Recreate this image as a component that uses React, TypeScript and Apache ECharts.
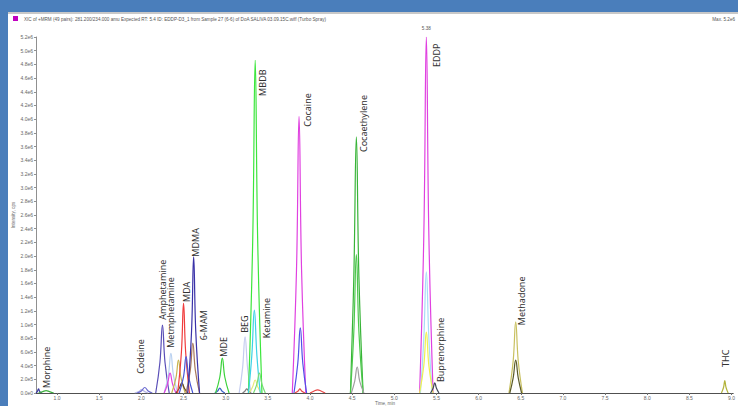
import React, { useEffect, useRef } from "react";
import * as echarts from "echarts";

// ---------- data (time in min, intensity in cps) ----------
const xTickValues = [1.0, 1.5, 2.0, 2.5, 3.0, 3.5, 4.0, 4.5, 5.0, 5.5, 6.0, 6.5, 7.0, 7.5, 8.0, 8.5, 9.0];

const morphineBlue: [number, number][] = [[0.75, 0], [0.765, 20000], [0.78, 60000], [0.795, 20000], [0.82, 0]];
const morphineGreen: [number, number][] = [[0.78, 0], [0.83, 20000], [0.87, 35000], [0.91, 20000], [0.96, 0]];
const codeine: [number, number][] = [[1.95, 0], [2.0, 30000], [2.04, 80000], [2.08, 30000], [2.13, 0]];
const codeineQual: [number, number][] = [[1.92, 0], [1.97, 20000], [2.0, 50000], [2.04, 20000], [2.08, 0]];
const amphetamine: [number, number][] = [[2.17, 0], [2.22, 450000], [2.25, 990000], [2.28, 450000], [2.33, 0]];
const methamphetamine: [number, number][] = [[2.27, 0], [2.32, 260000], [2.35, 580000], [2.38, 260000], [2.43, 0]];
const methamphetamineQual: [number, number][] = [[2.27, 0], [2.31, 130000], [2.34, 290000], [2.37, 130000], [2.41, 0]];
const mdaQual: [number, number][] = [[2.36, 0], [2.41, 220000], [2.44, 480000], [2.47, 220000], [2.52, 0]];
const mda: [number, number][] = [[2.43, 0], [2.475, 600000], [2.5, 1310000], [2.525, 600000], [2.57, 0]];
const mdaQual2: [number, number][] = [[2.45, 0], [2.5, 240000], [2.53, 530000], [2.56, 240000], [2.61, 0]];
const smallDark: [number, number][] = [[2.41, 0], [2.45, 70000], [2.48, 150000], [2.51, 70000], [2.55, 0]];
const mdma: [number, number][] = [[2.55, 0], [2.595, 900000], [2.62, 1990000], [2.645, 900000], [2.69, 0]];
const mam6: [number, number][] = [[2.53, 0], [2.58, 330000], [2.61, 730000], [2.64, 330000], [2.69, 0]];
const mde: [number, number][] = [[2.88, 0], [2.93, 230000], [2.96, 510000], [2.99, 230000], [3.04, 0]];
const mdeQual: [number, number][] = [[2.87, 0], [2.905, 30000], [2.93, 70000], [2.955, 30000], [2.99, 0]];
const beg: [number, number][] = [[3.16, 0], [3.2, 360000], [3.23, 820000], [3.26, 360000], [3.3, 0]];
const begQual: [number, number][] = [[3.2, 0], [3.23, 30000], [3.25, 60000], [3.27, 30000], [3.3, 0]];
const mbdb: [number, number][] = [[3.27, 0], [3.32, 2200000], [3.35, 4860000], [3.38, 2200000], [3.43, 0]];
const ketamineCyan: [number, number][] = [[3.27, 0], [3.31, 550000], [3.34, 1210000], [3.37, 550000], [3.41, 0]];
const ketamine: [number, number][] = [[3.33, 0], [3.37, 130000], [3.4, 290000], [3.43, 130000], [3.47, 0]];
const ketamineQual: [number, number][] = [[3.28, 0], [3.32, 90000], [3.35, 190000], [3.38, 90000], [3.42, 0]];
const cocaine: [number, number][] = [[3.79, 0], [3.84, 1800000], [3.87, 4040000], [3.9, 1800000], [3.95, 0]];
const cocaineQual: [number, number][] = [[3.81, 0], [3.855, 430000], [3.885, 950000], [3.915, 430000], [3.96, 0]];
const cocaineRed1: [number, number][] = [[3.82, 0], [3.86, 30000], [3.88, 60000], [3.9, 30000], [3.94, 0]];
const cocaineRed2: [number, number][] = [[4.0, 0], [4.05, 30000], [4.09, 45000], [4.13, 30000], [4.18, 0]];
const cocaethylene: [number, number][] = [[4.48, 0], [4.52, 1700000], [4.55, 3740000], [4.58, 1700000], [4.63, 0]];
const cocaethyleneQual: [number, number][] = [[4.48, 0], [4.52, 900000], [4.55, 2020000], [4.58, 900000], [4.63, 0]];
const cocaethyleneGray: [number, number][] = [[4.49, 0], [4.53, 170000], [4.56, 380000], [4.59, 170000], [4.64, 0]];
const eddp: [number, number][] = [[5.3, 0], [5.35, 2300000], [5.38, 5200000], [5.41, 2300000], [5.46, 0]];
const eddpCyan: [number, number][] = [[5.31, 0], [5.35, 800000], [5.38, 1770000], [5.41, 800000], [5.45, 0]];
const eddpYellow: [number, number][] = [[5.3, 0], [5.35, 400000], [5.38, 890000], [5.41, 400000], [5.46, 0]];
const buprenorphine: [number, number][] = [[5.43, 0], [5.46, 70000], [5.48, 150000], [5.5, 70000], [5.53, 0]];
const methadone: [number, number][] = [[6.36, 0], [6.41, 470000], [6.44, 1040000], [6.47, 470000], [6.52, 0]];
const methadoneQual: [number, number][] = [[6.37, 0], [6.41, 220000], [6.44, 480000], [6.47, 220000], [6.51, 0]];
const thc: [number, number][] = [[8.88, 0], [8.905, 80000], [8.92, 180000], [8.935, 80000], [8.96, 0]];

// compound label anchors [time, intensity] (bottom of each rotated label)
const labelNames = ["Morphine", "Codeine", "Amphetamine", "Metmphetamine", "MDA", "MDMA", "6-MAM", "MDE", "BEG", "MBDB", "Ketamine", "Cocaine", "Cocaethylene", "EDDP", "Buprenorphine", "Methadone", "THC"];
const labelTimes = [0.88, 1.99, 2.25, 2.35, 2.54, 2.64, 2.74, 2.97, 3.22, 3.44, 3.48, 3.97, 4.64, 5.5, 5.55, 6.51, 8.93];
const labelIntensities = [73000, 280000, 1070000, 660000, 1330000, 1990000, 770000, 530000, 880000, 4340000, 800000, 3890000, 3520000, 4760000, 160000, 990000, 380000];

const apexTime = 5.38;
const apexIntensity = 5200000;

const titleText = "XIC of +MRM (49 pairs): 281.200/234.000 amu Expected RT: 5.4 ID: EDDP-D3_1 from Sample 27 (6-6) of DoA SALIVA 03.09.15C.wiff (Turbo Spray)";
const maxText = "Max. 5.2e6";

const traces: { data: [number, number][]; color: string }[] = [
  { data: morphineBlue, color: "#3a3aa0" },
  { data: morphineGreen, color: "#40b040" },
  { data: codeineQual, color: "#b8b8e8" },
  { data: codeine, color: "#6a6ad0" },
  { data: amphetamine, color: "#5a4fb8" },
  { data: methamphetamine, color: "#b8d0f0" },
  { data: methamphetamineQual, color: "#e040e0" },
  { data: mdaQual, color: "#c8b450" },
  { data: smallDark, color: "#6a4a28" },
  { data: mda, color: "#f03c3c" },
  { data: mdaQual2, color: "#4858d8" },
  { data: mam6, color: "#a8785a" },
  { data: mdma, color: "#3a32a8" },
  { data: mdeQual, color: "#3c64c8" },
  { data: mde, color: "#3cd23c" },
  { data: beg, color: "#c4ccf0" },
  { data: begQual, color: "#808080" },
  { data: ketamineQual, color: "#e8e878" },
  { data: mbdb, color: "#3ce63c" },
  { data: ketamineCyan, color: "#3cd2e6" },
  { data: ketamine, color: "#78dc78" },
  { data: cocaine, color: "#e040e0" },
  { data: cocaineQual, color: "#5050e8" },
  { data: cocaineRed1, color: "#e84848" },
  { data: cocaineRed2, color: "#e84848" },
  { data: cocaethylene, color: "#38b438" },
  { data: cocaethyleneQual, color: "#4cc84c" },
  { data: cocaethyleneGray, color: "#a0a0a0" },
  { data: eddp, color: "#e040e0" },
  { data: eddpCyan, color: "#a8dcf8" },
  { data: eddpYellow, color: "#f0f050" },
  { data: buprenorphine, color: "#404858" },
  { data: methadone, color: "#c8c060" },
  { data: methadoneQual, color: "#5a5a28" },
  { data: thc, color: "#b4b43c" },
];

const fmtY = (v: number) => {
  if (v === 0) return "0.0e0";
  if (v < 1e6) return (v / 1e5).toFixed(1) + "e5";
  return (v / 1e6).toFixed(1) + "e6";
};

export default function App() {
  const ref = useRef<HTMLDivElement>(null);
  useEffect(() => {
    if (!ref.current) return;
    const chart = echarts.init(ref.current, null, { renderer: "svg" });
    const small = { fontSize: 5, color: "#666", fontFamily: "Liberation Sans" };
    chart.setOption({
      animation: false,
      backgroundColor: "#4a7ebb",
      grid: { left: 36, right: 3, top: 37, bottom: 13 },
      xAxis: {
        type: "value",
        min: 0.75,
        max: 9.02,
        axisLine: { lineStyle: { color: "#505050", width: 1 } },
        axisTick: { customValues: xTickValues, length: 2, lineStyle: { color: "#707070" } },
        axisLabel: { customValues: xTickValues, ...small, margin: 2, formatter: (v: number) => v.toFixed(1) },
        splitLine: { show: false },
      },
      yAxis: {
        type: "value",
        min: 0,
        max: 5200000,
        interval: 200000,
        axisLine: { show: true, lineStyle: { color: "#909090", width: 1 } },
        axisTick: { show: true, length: 2, lineStyle: { color: "#909090" } },
        axisLabel: { ...small, margin: 3, formatter: fmtY },
        splitLine: { show: false },
      },
      series: traces.map((t) => ({
        type: "line",
        data: t.data,
        smooth: 0.45,
        symbol: "none",
        lineStyle: { color: t.color, width: 1.2 },
        z: 3,
      })),
    });

    const fg = "#333";
    const labels = labelNames.map((name, i) => {
      const p = chart.convertToPixel({ gridIndex: 0 }, [labelTimes[i], labelIntensities[i]]) as number[];
      return {
        type: "text",
        x: p[0],
        y: p[1],
        rotation: Math.PI / 2,
        z: 10,
        style: { text: name, fontSize: 9, fill: fg, fontFamily: "Noto Sans", align: "left", verticalAlign: "middle" },
      };
    });
    const apex = chart.convertToPixel({ gridIndex: 0 }, [apexTime, apexIntensity]) as number[];
    chart.setOption({
      graphic: [
        { type: "rect", shape: { x: 8, y: 12, width: 730, height: 394 }, style: { fill: "#ffffff" }, z: -10, silent: true },
        { type: "rect", shape: { x: 8, y: 12, width: 730, height: 2 }, style: { fill: "#c8c8c8" }, z: -9 },
        { type: "rect", shape: { x: 13, y: 16, width: 5, height: 5 }, style: { fill: "#c000c0" } },
        { type: "text", x: 24, y: 19, style: { text: titleText, fontSize: 4.6, fill: "#555", fontFamily: "Liberation Sans", verticalAlign: "middle" } },
        { type: "text", x: 735, y: 19, style: { text: maxText, fontSize: 4.6, fill: "#555", fontFamily: "Liberation Sans", align: "right", verticalAlign: "middle" } },
        { type: "text", x: 13, y: 215, rotation: Math.PI / 2, style: { text: "Intensity, cps", fontSize: 4.6, fill: "#666", fontFamily: "Liberation Sans", align: "center", verticalAlign: "middle" } },
        { type: "text", x: 375, y: 403, style: { text: "Time, min", fontSize: 4.6, fill: "#666", fontFamily: "Liberation Sans", align: "left", verticalAlign: "middle" } },
        { type: "text", x: apex[0], y: apex[1] - 6, style: { text: apexTime.toFixed(2), fontSize: 4.6, fill: "#555", fontFamily: "Liberation Sans", align: "center", verticalAlign: "bottom" } },
        ...labels,
      ],
    });
    return () => chart.dispose();
  }, []);
  return <div ref={ref} style={{ position: "fixed", left: 0, top: 0, width: 738, height: 406 }} />;
}
